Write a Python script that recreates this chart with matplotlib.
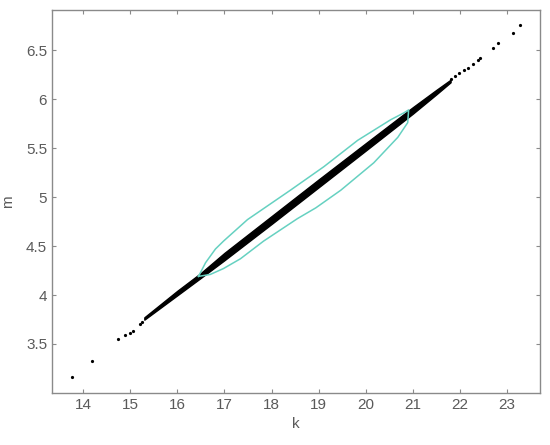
import matplotlib.pyplot as plt

# isolated points at both ends of the cloud
tail_k = [13.76, 14.18, 14.75, 14.89, 15.00, 15.06, 15.21, 15.26,
          21.81, 21.90, 21.98, 22.09, 22.16, 22.27, 22.38, 22.43,
          22.70, 22.80, 23.12, 23.28]
tail_m = [3.16, 3.33, 3.55, 3.59, 3.61, 3.63, 3.70, 3.72,
          6.21, 6.24, 6.27, 6.30, 6.32, 6.36, 6.40, 6.42,
          6.52, 6.57, 6.68, 6.755]

# dense band of points (lower/upper edge)
band_k = [15.3, 16.0, 16.5, 17.0, 18.0, 19.0, 20.0, 21.0, 21.5, 21.8]
band_lo = [3.748, 3.997, 4.175, 4.355, 4.725, 5.10, 5.475, 5.852, 6.05, 6.172]
band_hi = [3.772, 4.043, 4.225, 4.43, 4.805, 5.18, 5.55, 5.918, 6.095, 6.198]

# cyan contour (upper edge left->right, then lower edge right->left)
cont_k = [16.45, 16.60, 16.81, 16.98, 17.49, 18.40, 19.11, 19.83, 20.53, 20.81, 20.91,
          20.89, 20.68, 20.17, 19.47, 18.94, 18.55, 17.83, 17.34, 16.98, 16.70, 16.45]
cont_m = [4.19, 4.33, 4.47, 4.55, 4.77, 5.07, 5.31, 5.58, 5.79, 5.86, 5.89,
          5.76, 5.61, 5.35, 5.07, 4.89, 4.78, 4.55, 4.37, 4.27, 4.21, 4.19]

plt.rcParams['font.family'] = ['Liberation Sans', 'DejaVu Sans']

fig = plt.figure(figsize=(5.5, 4.45), dpi=100)
ax = fig.add_axes([0.0945, 0.117, 0.8875, 0.8605])

ax.fill_between(band_k, band_lo, band_hi, color='black', lw=1.0, edgecolor='black')
ax.plot(tail_k, tail_m, 'o', color='black', ms=2.3, mew=0)
ax.plot(cont_k, cont_m, color='#66d1c1', lw=1.1)

ax.set_xlim(13.34, 23.7)
ax.set_ylim(3.0, 6.91)
ax.set_xticks([14, 15, 16, 17, 18, 19, 20, 21, 22, 23])
ax.set_yticks([3.5, 4, 4.5, 5, 5.5, 6, 6.5])
ax.set_yticklabels(['3.5', '4', '4.5', '5', '5.5', '6', '6.5'])

gray = '#5a5a5a'
for s in ax.spines.values():
    s.set_color('#8a8a8a')
    s.set_linewidth(1.0)
ax.tick_params(direction='in', length=3, width=0.8, color='#8a8a8a',
               labelcolor=gray, labelsize=11, top=True, right=True)
ax.set_xlabel('k', color=gray, fontsize=11, labelpad=4)
ax.set_ylabel('m', color=gray, fontsize=11, labelpad=8)

fig.savefig('out.png', dpi=100)
